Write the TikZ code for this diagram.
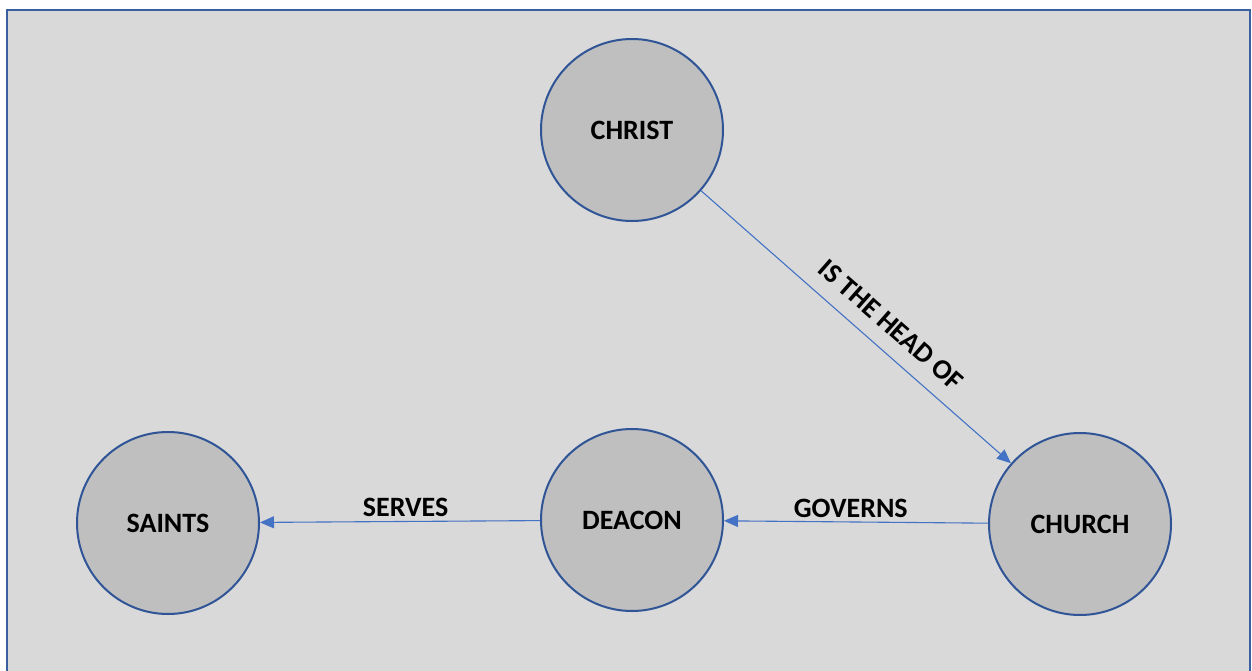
\documentclass[tikz,border=0pt]{standalone}
\usepackage{fontspec}
\setmainfont{Carlito}
\usetikzlibrary{arrows.meta}
\definecolor{bgfill}{HTML}{D9D9D9}
\definecolor{framecol}{HTML}{3A5F9E}
\definecolor{circfill}{HTML}{BFBFBF}
\definecolor{circline}{HTML}{2F5597}
\definecolor{arrowcol}{HTML}{4472C4}
\tikzset{
  entity/.style={circle, draw=circline, line width=2pt, fill=circfill,
    minimum size=182pt, inner sep=0pt, font=\fontsize{28}{33}\selectfont\bfseries},
  rel/.style={draw=arrowcol, line width=1.1pt,
    -{Triangle[length=14pt, width=12pt]}},
  rellabel/.style={font=\fontsize{28}{33}\selectfont\bfseries, inner sep=2pt}
}
\begin{document}
\begin{tikzpicture}[x=1pt, y=-1pt]
\useasboundingbox (0,0) rectangle (1252,671);
\fill[white] (0,0) rectangle (1252,671);
\fill[bgfill] (7,10) rectangle (1251,671);
\draw[framecol, line width=2.5pt] (7,671) -- (7,10) -- (1250,10) -- (1250,671);
\node[entity] (christ) at (632,130) {CHRIST};
\node[entity] (saints) at (168,523) {SAINTS};
\node[entity] (deacon) at (632,520) {DEACON};
\node[entity] (church) at (1080,524) {CHURCH};
\draw[rel] (christ) -- node[rellabel, sloped, above=13pt, pos=0.56] {IS THE HEAD OF} (church);
\draw[rel] (church) -- node[rellabel, above=2pt, pos=0.52] {GOVERNS} (deacon);
\draw[rel] (deacon) -- node[rellabel, above=2pt, pos=0.48] {SERVES} (saints);
\end{tikzpicture}
\end{document}
